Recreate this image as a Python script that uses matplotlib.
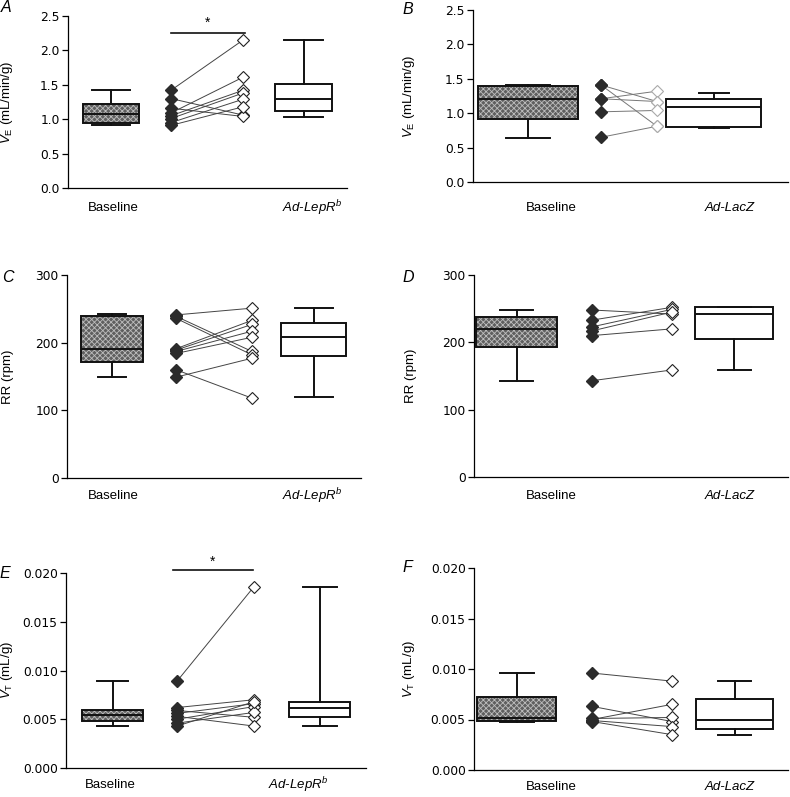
import matplotlib
matplotlib.use('Agg')
import matplotlib.pyplot as plt
from matplotlib.patches import Rectangle

plt.rcParams['font.family'] = ['Liberation Sans', 'DejaVu Sans']
plt.rcParams['mathtext.fontset'] = 'custom'
plt.rcParams['mathtext.rm'] = 'Liberation Sans'
plt.rcParams['mathtext.it'] = 'Liberation Sans:italic'
plt.rcParams['hatch.linewidth'] = 0.6

# box stats: whisker low, q1, median, q3, whisker high
# paired points: before (filled) and after (open)

# A - VE, Ad-LepRb
A_base = [0.91, 0.95, 1.07, 1.22, 1.42]
A_pre = [1.42, 1.30, 1.16, 1.09, 1.05, 1.01, 0.95, 0.91]
A_post = [2.15, 1.06, 1.04, 1.61, 1.42, 1.38, 1.29, 1.18]
A_treat = [1.03, 1.12, 1.29, 1.51, 2.15]

# B - VE, Ad-LacZ
B_base = [0.64, 0.92, 1.21, 1.39, 1.41]
B_pre = [1.41, 1.41, 1.21, 1.21, 1.02, 0.65]
B_post = [1.17, 0.81, 1.32, 1.17, 1.04, 0.81]
B_treat = [0.79, 0.80, 1.09, 1.21, 1.30]

# C - RR, Ad-LepRb
C_base = [149, 171, 191, 239, 243]
C_pre = [241, 239, 236, 191, 189, 187, 184, 160, 149]
C_post = [251, 187, 182, 233, 227, 217, 208, 118, 177]
C_treat = [119, 181, 209, 229, 251]

# D - RR, Ad-LacZ
D_base = [143, 193, 220, 237, 248]
D_pre = [248, 233, 223, 217, 210, 143]
D_post = [242, 252, 249, 245, 220, 159]
D_treat = [159, 205, 242, 252, 252]

# E - VT, Ad-LepRb
E_base = [0.0043, 0.0048, 0.0054, 0.0060, 0.0089]
E_pre = [0.0089, 0.0062, 0.0059, 0.0056, 0.0053, 0.0050, 0.0046, 0.0043]
E_post = [0.0186, 0.0070, 0.0052, 0.0066, 0.0043, 0.0063, 0.0057, 0.0068]
E_treat = [0.0043, 0.0052, 0.0062, 0.0068, 0.0186]

# F - VT, Ad-LacZ
F_base = [0.0048, 0.0049, 0.0051, 0.0072, 0.0096]
F_pre = [0.0096, 0.0063, 0.0051, 0.0050, 0.0049, 0.0048]
F_post = [0.0088, 0.0048, 0.0052, 0.0065, 0.0043, 0.0035]
F_treat = [0.0035, 0.0041, 0.0050, 0.0070, 0.0088]

lepr_label = r'$\mathit{Ad}$-$\mathit{LepR}^{\mathit{b}}$'
lacz_label = 'Ad-LacZ'
ve_label = r'$V_{\mathrm{E}}$ (mL/min/g)'
rr_label = 'RR (rpm)'
vt_label = r'$V_{\mathrm{T}}$ (mL/g)'

W, H = 790, 797
fig = plt.figure(figsize=(W / 100, H / 100), dpi=100)


def stats(v):
    return dict(whislo=v[0], q1=v[1], med=v[2], q3=v[3], whishi=v[4], fliers=[])


def draw_panel(letter, rect, letter_xy, ylab_x, data, lay):
    left, top, right, bottom = rect
    ax = fig.add_axes([left / W, 1 - bottom / H, (right - left) / W, (bottom - top) / H])
    base, pre, post, treat, ylim, yticks, yfmt, ylab, lab2, grey = data
    pb, pl, pr, pt = lay['x']
    wb, wt = lay['w']
    cb, ct = lay['cap']

    # hatched fill for the baseline box
    ax.add_patch(Rectangle((pb - wb / 2, base[1]), wb, base[3] - base[1],
                           facecolor='#5f5f5f', edgecolor='#bdbdbd', hatch='xxxxxx',
                           lw=0, zorder=1))
    ax.bxp([stats(base), stats(treat)], positions=[pb, pt], widths=[wb, wt],
           capwidths=[cb, ct], patch_artist=True, showfliers=False,
           boxprops=dict(facecolor='none', edgecolor='#111111', linewidth=1.4),
           medianprops=dict(color='#111111', linewidth=1.4),
           whiskerprops=dict(color='#111111', linewidth=1.4),
           capprops=dict(color='#111111', linewidth=1.4), zorder=2)

    # paired lines
    lc = '#777777' if grey else '#444444'
    for a, b in zip(pre, post):
        ax.plot([pl, pr], [a, b], color=lc, lw=0.7, zorder=3)
    ax.plot([pl] * len(pre), pre, 'D', ms=5.8, mfc='#2b2b2b', mec='#2b2b2b', zorder=4)
    ax.plot([pr] * len(post), post, 'D', ms=5.8, mfc='white',
            mec='#aaaaaa' if grey else '#222222', mew=0.8, zorder=4)

    ax.set_xlim(0, right - left)
    ax.set_ylim(*ylim)
    ax.set_yticks(yticks)
    ax.set_yticklabels([yfmt % t for t in yticks], family='DejaVu Sans')
    ax.spines['top'].set_visible(False)
    ax.spines['right'].set_visible(False)
    ax.spines['left'].set_linewidth(0.9)
    ax.spines['bottom'].set_linewidth(0.9)
    ax.tick_params(axis='y', direction='out', length=4, width=0.9, labelsize=8.8, pad=2)
    ax.tick_params(axis='x', length=0, labelbottom=False)
    ax.set_ylabel(ylab, fontsize=9.5)
    ax.yaxis.set_label_coords(-(left - ylab_x) / (right - left), 0.5)

    lx1, lx2 = lay['lab']
    for x, t, st in [(lx1, 'Baseline', 'normal'), (lx2, lab2, 'italic')]:
        ax.annotate(t, xy=(x, 0), xycoords=('data', 'axes fraction'),
                    xytext=(0, -lay['dy']), textcoords='offset pixels',
                    ha='center', va='center', fontsize=9.5, style=st)

    fig.text(letter_xy[0] / W, 1 - letter_xy[1] / H, letter, fontsize=11.5,
             style='italic', ha='left', va='center')
    return ax


ve_ticks = [0.0, 0.5, 1.0, 1.5, 2.0, 2.5]
rr_ticks = [0, 100, 200, 300]
vt_ticks = [0.0, 0.005, 0.010, 0.015, 0.020]

axA = draw_panel('A', (68, 16, 347, 188), (1, 8), 15,
                 (A_base, A_pre, A_post, A_treat, (0, 2.5), ve_ticks, '%.1f', ve_label, lepr_label, False),
                 dict(x=(43, 103, 175, 235.5), w=(56, 57), cap=(38, 39), lab=(45, 244), dy=20))
axB = draw_panel('B', (473, 10, 788, 182), (402, 10), 417,
                 (B_base, B_pre, B_post, B_treat, (0, 2.5), ve_ticks, '%.1f', ve_label, lacz_label, True),
                 dict(x=(55, 128, 184, 240.5), w=(100, 95), cap=(44, 30), lab=(78, 257), dy=26))
axC = draw_panel('C', (67, 275, 361, 478), (2, 277), 14,
                 (C_base, C_pre, C_post, C_treat, (0, 300), rr_ticks, '%d', rr_label, lepr_label, False),
                 dict(x=(45, 109, 185, 246.5), w=(62, 65), cap=(28, 38), lab=(46, 245), dy=18))
axD = draw_panel('D', (474, 275, 788, 477), (402, 277), 417,
                 (D_base, D_pre, D_post, D_treat, (0, 300), rr_ticks, '%d', rr_label, lacz_label, False),
                 dict(x=(42.5, 118, 198, 260), w=(81, 78), cap=(33, 33), lab=(77, 256), dy=19))
axE = draw_panel('E', (66, 573, 366, 768), (0, 573), 15,
                 (E_base, E_pre, E_post, E_treat, (0, 0.020), vt_ticks, '%.3f', vt_label, lepr_label, False),
                 dict(x=(46.5, 111, 188, 253.5), w=(61, 61), cap=(31, 34), lab=(44, 232), dy=17))
axF = draw_panel('F', (474, 568, 788, 770), (402, 568), 417,
                 (F_base, F_pre, F_post, F_treat, (0, 0.020), vt_ticks, '%.3f', vt_label, lacz_label, False),
                 dict(x=(42.5, 118, 198, 260.5), w=(79, 77), cap=(34, 33), lab=(77, 256), dy=17))

# significance bars
for ax, x1, x2, yb, ys in [(axA, 103, 177, 2.25, 2.40), (axE, 107, 187, 0.0203, 0.0212)]:
    ax.plot([x1, x2], [yb, yb], color='#111111', lw=1.2, clip_on=False)
    ax.text((x1 + x2) / 2, ys, '*', ha='center', va='center', fontsize=10)

fig.savefig('out.png', dpi=100)
